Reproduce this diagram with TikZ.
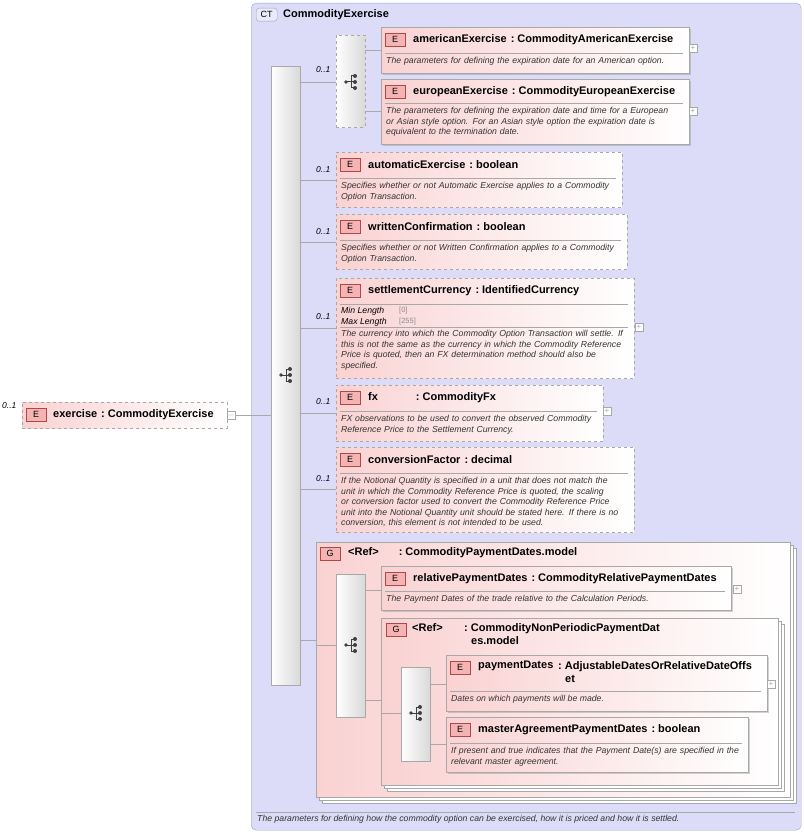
\documentclass[tikz,border=0pt]{standalone}
\usepackage{fontspec}
\setmainfont{Liberation Sans}
\usetikzlibrary{shadows}
\definecolor{ctfill}{HTML}{DCDCF8}
\definecolor{ctline}{HTML}{A0A0C8}
\definecolor{epink}{HTML}{FAD2D2}
\definecolor{ebadge}{HTML}{F4B4B4}
\definecolor{ered}{HTML}{B04848}
\definecolor{gline}{HTML}{A8A8A8}
\newcommand\cs{\hspace{4pt}:\hspace{3pt}}
\tikzset{
  box/.style={draw=gline, left color=epink, right color=white, anchor=north west, inner sep=0pt},
  dbox/.style={box, dashed},
  sbox/.style={box, drop shadow={shadow xshift=1.5pt, shadow yshift=-1.5pt, opacity=.35}},
  badge/.style={draw=ered, fill=ebadge, anchor=north west, minimum width=20pt, minimum height=13pt, inner sep=0pt, font=\fontsize{9}{9}\selectfont},
  ttl/.style={anchor=west, font=\fontsize{11}{13}\selectfont\bfseries, inner sep=0pt, align=left},
  dsc/.style={anchor=north west, font=\fontsize{8.7}{10.6}\selectfont\itshape, execute at begin node={\hyphenpenalty=10000\relax}, inner sep=0pt, align=left, text=black!80},
  card/.style={font=\fontsize{8.5}{8}\selectfont\itshape, inner sep=0pt},
  conn/.style={draw=gline, line width=0.6pt},
  bar/.style={draw=gline, left color=white, right color=black!15, anchor=north west, inner sep=0pt},
  plus/.style={draw=gline, fill=white, minimum size=8pt, inner sep=0pt, font=\fontsize{8}{8}\selectfont, text=gline}
}
% #1 name #2 x #3 y #4 w #5 h #6 style #7 title #8 sep y #9 desc
\newcommand\El[9]{%
  \node[#6, minimum width=#4pt, minimum height=#5pt] (#1) at (#2,#3) {};
  \node[badge] (#1b) at (#2+4,#3+6) {E};
  \node[ttl] (#1t) at (#2+32,#3+12.5) {#7};
  \draw[gline] (#2+4,#8) -- (#2+#4-6,#8);
  \node[dsc, text width=#4pt-12pt] (#1d) at (#2+5,#8+4) {#9};
}
\newcommand\Plus[3]{\node[plus] (#1) at (#2,#3) {+};}
\newcommand\SeqIcon[3]{%
  \coordinate (#1) at (#2,#3);
  \fill[black!75] (#2-5,#3) circle (1.8pt);
  \draw[black!75, line width=1pt] (#2-5,#3) -- (#2,#3) (#2,#3-6) -- (#2,#3+6) -- (#2+4,#3+6) (#2,#3) -- (#2+4,#3) (#2,#3-6) -- (#2+4,#3-6);
  \fill[black!75] (#2+4,#3-6) circle (2pt) (#2+4,#3) circle (2pt) (#2+4,#3+6) circle (2pt);
}
\begin{document}
\begin{tikzpicture}[x=1pt,y=-1pt]
\useasboundingbox (0,0) rectangle (803,834);
% CT
\node[draw=ctline, fill=ctfill, rounded corners=5pt, minimum width=550pt, minimum height=827pt, anchor=north west] (ct) at (251,3) {};
\node[draw=ctline, fill=ctfill!60!white, rounded corners=3pt, minimum width=21pt, minimum height=13pt, anchor=north west, inner sep=0pt, font=\fontsize{9}{9}\selectfont] (ctb) at (256,8) {CT};
\node[ttl] (ctt) at (283,14.5) {CommodityExercise};
\draw[gline] (256,812) -- (795,812);
\node[dsc, anchor=west] (ctd) at (257,819) {The parameters for defining how the commodity option can be exercised, how it is priced and how it is settled.};
% exercise
\node[card, anchor=west] (c0) at (2,406) {0..1};
\node[dbox, minimum width=205pt, minimum height=26pt] (ex) at (22,402) {};
\node[badge] (exb) at (26,408) {E};
\node[ttl] (ext) at (53,414.5) {exercise\cs CommodityExercise};
\node[plus] (exp) at (231,415) {$-$};
% main sequence
\node[bar, minimum width=29pt, minimum height=619pt] (seq) at (271,66) {};
\SeqIcon{seqi}{286}{375}
\draw[conn] (exp.east) -- (seq.west |- exp.east);
% choice
\node[bar, dashed, minimum width=29pt, minimum height=92pt] (ch) at (336,35) {};
\SeqIcon{chi}{351}{82}
\node[card, anchor=west] at (316,70) {0..1};
\draw[conn] (300,82) -- (ch.west |- 0,82);
\El{am}{381}{27}{308}{46}{sbox}{americanExercise\cs CommodityAmericanExercise}{53}{The parameters for defining the expiration date for an American option.}
\Plus{amp}{693}{48}
\draw[conn] (365,50) -- (am.west |- 0,50);
\El{eu}{381}{79}{308}{65}{sbox}{europeanExercise\cs CommodityEuropeanExercise}{103}{The parameters for defining the expiration date and time for a European or Asian style option. For an Asian style option the expiration date is equivalent to the termination date.}
\Plus{eup}{693}{111}
\draw[conn] (365,111) -- (eu.west |- 0,111);
% automatic
\node[card, anchor=west] at (316,170) {0..1};
\El{au}{336}{152}{286}{55}{dbox}{automaticExercise\cs boolean}{178}{Specifies whether or not Automatic Exercise applies to a Commodity Option Transaction.}
\draw[conn] (300,180) -- (au.west |- 0,180);
\node[card, anchor=west] at (316,232) {0..1};
\El{wc}{336}{214}{291}{55}{dbox}{writtenConfirmation\cs boolean}{240}{Specifies whether or not Written Confirmation applies to a Commodity Option Transaction.}
\draw[conn] (300,242) -- (wc.west |- 0,242);
% settlement
\node[card, anchor=west] at (316,317) {0..1};
\El{sc}{336}{278}{298}{100}{dbox}{settlementCurrency\cs IdentifiedCurrency}{304}{\vspace*{-1pt}}
\node[dsc, anchor=north west, text=black] at (341,307) {Min Length\\Max Length};
\node[dsc, anchor=north west, font=\fontsize{7.5}{10.6}\selectfont, text=black!45] at (399,307) {[0]\\{[255]}};
\draw[gline] (340,327) -- (628,327);
\node[dsc, text width=288pt] at (341,330) {The currency into which the Commodity Option Transaction will settle. If this is not the same as the currency in which the Commodity Reference Price is quoted, then an FX determination method should also be specified.};
\Plus{scp}{639}{327}
\draw[conn] (300,328) -- (sc.west |- 0,328);
% fx
\node[card, anchor=west] at (316,402) {0..1};
\El{fx}{336}{385}{267}{56}{dbox}{fx\hspace{38pt}:\hspace{3pt}CommodityFx}{411}{FX observations to be used to convert the observed Commodity Reference Price to the Settlement Currency.}
\Plus{fxp}{607}{411}
\draw[conn] (300,413) -- (fx.west |- 0,413);
% conversion
\node[card, anchor=west] at (316,479) {0..1};
\El{cf}{336}{447}{298}{85}{dbox}{conversionFactor\cs decimal}{473}{If the Notional Quantity is specified in a unit that does not match the unit in which the Commodity Reference Price is quoted, the scaling or conversion factor used to convert the Commodity Reference Price unit into the Notional Quantity unit should be stated here. If there is no conversion, this element is not intended to be used.}
\draw[conn] (300,489) -- (cf.west |- 0,489);
% group 1
\draw[gline, fill=white] (322,548) rectangle (796,803);
\draw[gline, fill=white] (319,545) rectangle (793,800);
\node[box, minimum width=474pt, minimum height=255pt] (g1) at (316,542) {};
\node[badge] (g1b) at (320,547) {G};
\node[ttl] (g1t) at (348,553) {<Ref>\hspace{20pt}:\hspace{3pt}CommodityPaymentDates.model};
\draw[conn] (300,640) -- (g1.west |- 0,640);
\node[bar, minimum width=29pt, minimum height=143pt] (s2) at (336,574) {};
\SeqIcon{s2i}{351}{645}
\draw[conn] (316,645) -- (s2.west |- 0,645);
\El{rp}{381}{566}{350}{44}{sbox}{relativePaymentDates\cs CommodityRelativePaymentDates}{591}{The Payment Dates of the trade relative to the Calculation Periods.}
\Plus{rpp}{737}{589}
\draw[conn] (365,590) -- (rp.west |- 0,590);
% group 2
\draw[gline, fill=white] (387,624) rectangle (784,791);
\draw[gline, fill=white] (384,621) rectangle (781,788);
\node[box, minimum width=397pt, minimum height=167pt] (g2) at (381,618) {};
\node[badge] (g2b) at (386,623) {G};
\node[ttl, anchor=north west] (g2t) at (412,623) {<Ref>};
\node[ttl, anchor=north west] (g2t2) at (464,623) {:\hspace{3pt}CommodityNonPeriodicPaymentDat\\\hspace{7pt}es.model};
\draw[conn] (365,700) -- (g2.west |- 0,700);
\node[bar, minimum width=29pt, minimum height=94pt] (s3) at (401,667) {};
\SeqIcon{s3i}{416}{713}
\draw[conn] (381,713) -- (s3.west |- 0,713);
\node[sbox, minimum width=321pt, minimum height=56pt] (pd) at (446,655) {};
\node[badge] at (450,661) {E};
\node[ttl, anchor=north west] at (478,661) {paymentDates};
\node[ttl, anchor=north west] at (558,661) {:\hspace{3pt}AdjustableDatesOrRelativeDateOffs\\\hspace{7pt}et};
\draw[gline] (450,691) -- (761,691);
\node[dsc] at (451,695) {Dates on which payments will be made.};
\Plus{pdp}{771}{684}
\draw[conn] (430,684) -- (pd.west |- 0,684);
\El{ma}{446}{717}{302}{55}{sbox}{masterAgreementPaymentDates\cs boolean}{743}{If present and true indicates that the Payment Date(s) are specified in the relevant master agreement.}
\draw[conn] (430,744) -- (ma.west |- 0,744);
\end{tikzpicture}
\end{document}
